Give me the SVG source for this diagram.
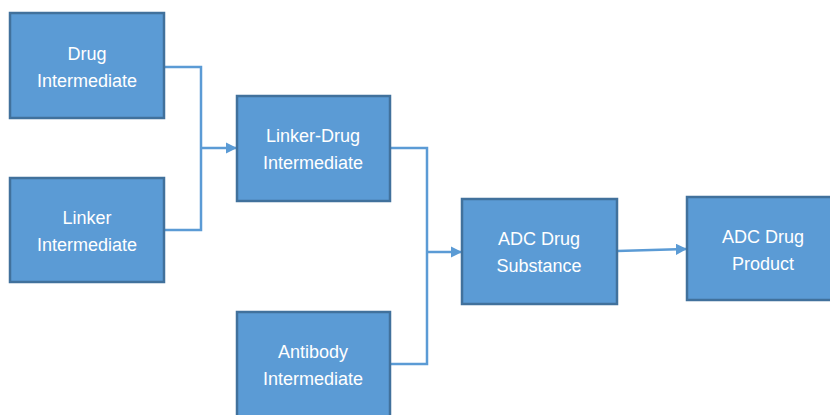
<svg xmlns="http://www.w3.org/2000/svg" width="830" height="415" viewBox="0 0 830 415">
<defs>
<style>
.box{fill:#5B9BD5;stroke:#41719C;stroke-width:2.5}
.lbl{fill:#ffffff;font-family:"Liberation Sans",Arial,sans-serif;font-size:18px;text-anchor:middle}
.con{fill:none;stroke:#5B9BD5;stroke-width:2.5}
</style>
<marker id="arr" viewBox="0 0 10 10" refX="9" refY="5" markerWidth="4.5" markerHeight="4.5" orient="auto" markerUnits="strokeWidth">
<path d="M0,0 L10,5 L0,10 z" fill="#5B9BD5"/>
</marker>
</defs>
<rect width="830" height="415" fill="#ffffff"/>
<g id="connectors">
<polyline class="con" points="164,67 201,67 201,230 164,230"/>
<line class="con" x1="201" y1="148" x2="236" y2="148" marker-end="url(#arr)"/>
<polyline class="con" points="390,148 427,148 427,364 390,364"/>
<line class="con" x1="427" y1="252" x2="461" y2="252" marker-end="url(#arr)"/>
<line class="con" x1="617" y1="251" x2="686" y2="249" marker-end="url(#arr)"/>
</g>
<g id="drug-intermediate">
<rect class="box" x="10" y="13" width="154" height="105"/>
<text class="lbl" x="87" y="60">Drug</text>
<text class="lbl" x="87" y="87">Intermediate</text>
</g>
<g id="linker-intermediate">
<rect class="box" x="10" y="178" width="154" height="104"/>
<text class="lbl" x="87" y="224">Linker</text>
<text class="lbl" x="87" y="251">Intermediate</text>
</g>
<g id="linker-drug-intermediate">
<rect class="box" x="237" y="96" width="153" height="105"/>
<text class="lbl" x="313" y="142">Linker-Drug</text>
<text class="lbl" x="313" y="169">Intermediate</text>
</g>
<g id="antibody-intermediate">
<rect class="box" x="237" y="312" width="153" height="110"/>
<text class="lbl" x="313" y="358">Antibody</text>
<text class="lbl" x="313" y="385">Intermediate</text>
</g>
<g id="adc-drug-substance">
<rect class="box" x="462" y="199" width="155" height="105"/>
<text class="lbl" x="539" y="245">ADC Drug</text>
<text class="lbl" x="539" y="272">Substance</text>
</g>
<g id="adc-drug-product">
<rect class="box" x="687" y="197" width="150" height="103"/>
<text class="lbl" x="763" y="243">ADC Drug</text>
<text class="lbl" x="763" y="270">Product</text>
</g>
</svg>
